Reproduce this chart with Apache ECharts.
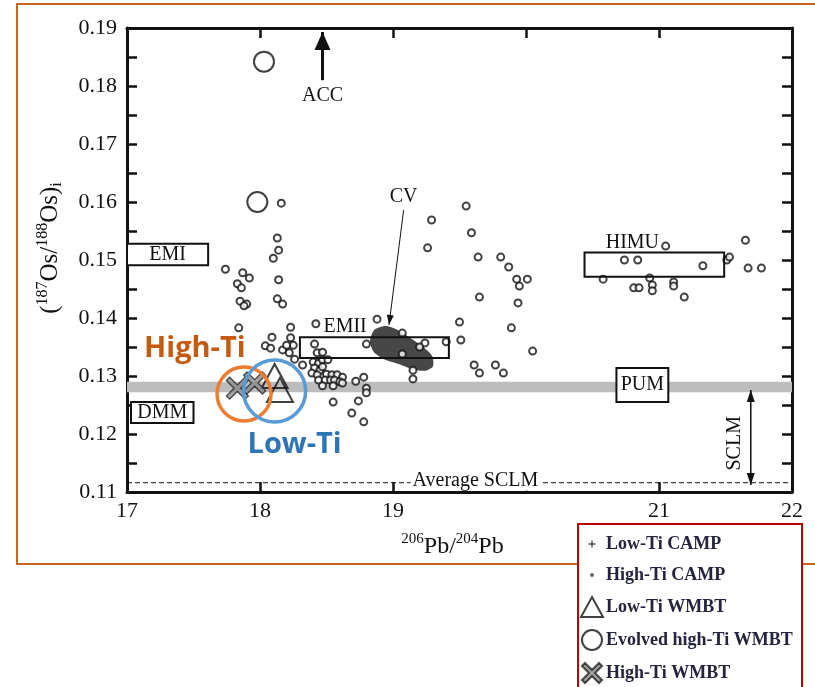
<!DOCTYPE html>
<html>
<head>
<meta charset="utf-8">
<script src="https://cdn.jsdelivr.net/npm/echarts@6/dist/echarts.min.js"></script>
<style>
  html, body { margin: 0; padding: 0; background: #fff; }
  #chart { width: 815px; height: 687px; }
</style>
</head>
<body>
<div id="chart"></div>
<script>
const SERIF = '"Liberation Serif", "DejaVu Serif", serif';
const SANS = '"Open Sans", "Noto Sans", sans-serif';

// Axes
const xTickLabels = ['17', '18', '19', '', '21', '22'];   // 20 is unlabelled in the original
const yTickLabels = ['0.11', '0.12', '0.13', '0.14', '0.15', '0.16', '0.17', '0.18', '0.19'];

// Samples: [206Pb/204Pb, 187Os/188Os(i)]
const lowTiCamp = [];
const highTiCamp = [
  [18.16, 0.1598], [18.13, 0.1538], [18.14, 0.1517], [18.10, 0.1503], [17.74, 0.1484], [17.87, 0.1478],
  [17.92, 0.1469], [17.83, 0.1459], [17.86, 0.1452], [18.14, 0.1466], [17.85, 0.1429], [17.90, 0.1424],
  [17.88, 0.1421], [18.13, 0.1433], [18.17, 0.1424], [17.84, 0.1383], [18.23, 0.1384], [18.42, 0.1390],
  [18.09, 0.1367], [18.04, 0.1352], [18.08, 0.1348], [18.23, 0.1366], [18.17, 0.1345], [18.22, 0.1340],
  [18.25, 0.1353], [18.26, 0.1329], [18.32, 0.1319], [18.20, 0.1353], [18.41, 0.1355], [18.80, 0.1355],
  [18.43, 0.1340], [18.47, 0.1341], [18.40, 0.1324], [18.44, 0.1322], [18.47, 0.1328], [18.51, 0.1328],
  [18.41, 0.1314], [18.45, 0.1310], [18.39, 0.1305], [18.43, 0.1302], [18.47, 0.1316], [18.50, 0.1303],
  [18.54, 0.1302], [18.58, 0.1302], [18.62, 0.1298], [18.44, 0.1293], [18.49, 0.1293], [18.53, 0.1293],
  [18.56, 0.1293], [18.60, 0.1290], [18.47, 0.1283], [18.55, 0.1283], [18.62, 0.1288], [18.72, 0.1291],
  [18.78, 0.1298], [18.80, 0.1279], [18.80, 0.1271], [18.74, 0.1257], [18.55, 0.1255], [18.69, 0.1236],
  [18.78, 0.1221], [18.88, 0.1398], [19.07, 0.1374], [19.24, 0.1357], [19.20, 0.1350], [19.07, 0.1338],
  [19.40, 0.1359], [19.15, 0.1310], [19.15, 0.1295], [19.55, 0.1593], [19.29, 0.1569], [19.59, 0.1547],
  [19.26, 0.1521], [19.64, 0.1505], [19.81, 0.1505], [19.87, 0.1488], [19.93, 0.1467], [20.01, 0.1467],
  [19.95, 0.1455], [19.65, 0.1436], [19.94, 0.1426], [19.50, 0.1393], [19.89, 0.1383], [19.51, 0.1362],
  [20.05, 0.1343], [19.61, 0.1319], [19.77, 0.1319], [19.65, 0.1305], [19.83, 0.1305], [21.05, 0.1524],
  [21.65, 0.1534], [20.74, 0.1500], [20.84, 0.1500], [21.33, 0.1490], [21.51, 0.1500], [21.53, 0.1505],
  [21.67, 0.1486], [21.77, 0.1486], [20.58, 0.1467], [20.93, 0.1469], [20.81, 0.1452], [20.85, 0.1452],
  [20.95, 0.1457], [20.95, 0.1447], [21.11, 0.1462], [21.11, 0.1455], [21.19, 0.1436]
];
const lowTiWmbt = [[18.11, 0.1300], [18.15, 0.1276]];
const evolvedHighTiWmbt = [[18.03, 0.1842], [17.98, 0.1600]];
const highTiWmbt = [[17.83, 0.1279], [17.96, 0.1288]];

// Mantle reservoirs: [x0, y0, x1, y1]
const reservoirNames = ['EMI', 'DMM', 'EMII', 'HIMU', 'PUM'];
const reservoirBoxes = [
  [17.00, 0.1491, 17.61, 0.1528],
  [17.03, 0.1219, 17.50, 0.1255],
  [18.30, 0.1331, 19.42, 0.1367],
  [20.44, 0.1471, 21.49, 0.1513],
  [20.68, 0.1255, 21.07, 0.1314]
];
const reservoirLabelX = [null, null, 18.64, 20.80, null];   // null = centred in box

const pumBand = [[17, 0.1272, 22, 0.1290]];
const avgSclm = [[17, 0.1116, 22]];
const avgSclmLabelX = 19.62;

// CV field outline
const cvField = [
  [18.857, 0.1379], [18.947, 0.1386], [19.038, 0.1379], [19.128, 0.1366], [19.226, 0.1350],
  [19.293, 0.1335], [19.301, 0.1317], [19.241, 0.1309], [19.143, 0.1312], [19.038, 0.1321],
  [18.932, 0.1329], [18.857, 0.1341], [18.827, 0.1359]
];

// Arrows: [fromX, fromY, toX, toY]
const arrowNames = ['ACC', 'CV', 'SCLM'];
const arrows = [
  [18.47, 0.1810, 18.47, 0.1893],
  [19.08, 0.1586, 18.97, 0.1388],
  [21.69, 0.1276, 21.69, 0.1112]
];
const arrowLabels = [[18.47, 0.1783], [19.08, 0.1609], [21.57, 0.1184]];

// Hand-drawn callouts
const calloutNames = ['High-Ti', 'Low-Ti'];
const calloutRings = [[17.88, 0.1269], [18.11, 0.1274]];
const calloutText = [[17.51, 0.1347], [18.26, 0.1181]];

const arrowStyle = [
  { width: 3, head: 18, half: 8, both: false },
  { width: 1, head: 10, half: 3.5, both: false },
  { width: 1.5, head: 12, half: 4, both: true }
];
const calloutStyle = [
  { ring: '#ed7d31', text: '#c55a11', r: 27 },
  { ring: '#5b9bd5', text: '#2e75b6', r: 31 }
];

const xPath = 'path://M3,0L10,7L17,0L20,3L13,10L20,17L17,20L10,13L3,20L0,17L7,10L0,3Z';
const plusIcon = 'path://M0,0M22,20M10.3,6.5h1.4v2.8h2.8v1.4h-2.8v2.8h-1.4v-2.8h-2.8v-1.4h2.8z';
const dotIcon = 'path://M0,0M22,20M9,10a2,2 0 1,0 4,0a2,2 0 1,0 -4,0z';

function rectFrom(api, b) {
  const a = api.coord([b[0], b[3]]);
  const c = api.coord([b[2], b[1]]);
  return { x: a[0], y: a[1], width: c[0] - a[0], height: c[1] - a[1] };
}

function arrowHead(tip, from, len, half) {
  const dx = tip[0] - from[0], dy = tip[1] - from[1];
  const d = Math.hypot(dx, dy) || 1;
  const ux = dx / d, uy = dy / d;
  const bx = tip[0] - ux * len, by = tip[1] - uy * len;
  return [tip, [bx - uy * half, by + ux * half], [bx + uy * half, by - ux * half]];
}

const chart = echarts.init(document.getElementById('chart'));

const axisLine = { show: true, onZero: false, lineStyle: { color: '#111', width: 3 } };
const tick = { show: true, inside: true, length: 10, lineStyle: { color: '#111', width: 2.5 } };
const minor = { show: true, splitNumber: 2, length: 10, lineStyle: { color: '#111', width: 2.5 } };

chart.setOption({
  backgroundColor: '#fff',
  animation: false,
  graphic: [
    { type: 'rect', z: 0, silent: true, shape: { x: 17, y: 4, width: 820, height: 560 },
      style: { fill: 'none', stroke: '#c8641e', lineWidth: 2 } },
    { type: 'rect', z: 50, silent: true, shape: { x: 578, y: 524, width: 224, height: 180 },
      style: { fill: '#fff', stroke: '#c00000', lineWidth: 2 } }
  ],
  grid: { left: 127, right: 23, top: 28, bottom: 195 },
  legend: {
    z: 60,
    orient: 'vertical',
    left: 580,
    top: 534,
    height: 200,
    padding: 0,
    itemWidth: 22,
    itemHeight: 20,
    itemGap: 11,
    selectedMode: false,
    textStyle: { fontFamily: SERIF, fontSize: 18, fontWeight: 'bold', color: '#24243c', padding: [0, 0, 0, -2] },
    data: [
      { name: 'Low-Ti CAMP', icon: plusIcon, itemStyle: { color: '#222', borderWidth: 0 } },
      { name: 'High-Ti CAMP', icon: dotIcon, itemStyle: { color: '#444', borderWidth: 0 } },
      { name: 'Low-Ti WMBT', icon: 'triangle' },
      { name: 'Evolved high-Ti WMBT', icon: 'circle' },
      { name: 'High-Ti WMBT', icon: xPath }
    ]
  },
  xAxis: [
    {
      type: 'value', position: 'bottom', min: 17, max: 22, interval: 1,
      axisLine, axisTick: tick, splitLine: { show: false },
      axisLabel: { fontFamily: SERIF, fontSize: 22, color: '#111', margin: 8,
        formatter: v => xTickLabels[Math.round(v - 17)] || '' },
      name: '{sup|206}{b|Pb/}{sup|204}{b|Pb}',
      nameLocation: 'middle', nameGap: 40,
      nameTextStyle: { fontFamily: SERIF, color: '#111', padding: [0, 14, 0, 0],
        rich: { b: { fontFamily: SERIF, fontSize: 24, lineHeight: 30, color: '#111' },
                sup: { fontFamily: SERIF, fontSize: 15, lineHeight: 15, verticalAlign: 'top', color: '#111' } } }
    },
    {
      type: 'value', position: 'top', min: 17, max: 22, interval: 1,
      axisLine, axisTick: tick, axisLabel: { show: false }, splitLine: { show: false }
    }
  ],
  yAxis: [
    {
      type: 'value', position: 'left', min: 0.11, max: 0.19, interval: 0.01,
      axisLine, axisTick: tick, minorTick: minor, splitLine: { show: false }, minorSplitLine: { show: false },
      axisLabel: { fontFamily: SERIF, fontSize: 22, color: '#111', margin: 10,
        formatter: v => yTickLabels[Math.round((v - 0.11) / 0.01)] || '' },
      name: '{b|(}{sup|187}{b|Os/}{sup|188}{b|Os)}{sub|i}',
      nameLocation: 'middle', nameGap: 62, nameRotate: 90,
      nameTextStyle: { fontFamily: SERIF, color: '#111', padding: [0, 0, 0, 24],
        rich: { b: { fontFamily: SERIF, fontSize: 25, lineHeight: 30, color: '#111' },
                sup: { fontFamily: SERIF, fontSize: 16, lineHeight: 16, verticalAlign: 'top', color: '#111' },
                sub: { fontFamily: SERIF, fontSize: 16, lineHeight: 16, verticalAlign: 'bottom', color: '#111' } } }
    },
    {
      type: 'value', position: 'right', min: 0.11, max: 0.19, interval: 0.01,
      axisLine, axisTick: tick, minorTick: minor, splitLine: { show: false }, minorSplitLine: { show: false },
      axisLabel: { show: false }
    }
  ],
  series: [
    {
      name: 'PUM band', type: 'custom', z: 1, silent: true, data: pumBand,
      renderItem: (params, api) => ({
        type: 'rect', shape: rectFrom(api, pumBand[params.dataIndex]), style: { fill: '#bdbdbd' }
      })
    },
    {
      name: 'Average SCLM', type: 'custom', z: 1, silent: true, data: avgSclm,
      renderItem: (params, api) => {
        const r = avgSclm[params.dataIndex];
        const a = api.coord([r[0], r[1]]), b = api.coord([r[2], r[1]]);
        const t = api.coord([avgSclmLabelX, r[1]]);
        return { type: 'group', children: [
          { type: 'line', shape: { x1: a[0], y1: a[1], x2: b[0], y2: b[1] },
            style: { stroke: '#111', lineWidth: 1, lineDash: [5, 3] } },
          { type: 'text', x: t[0], y: t[1] - 2, style: { text: 'Average SCLM', font: '20px ' + SERIF, fill: '#111',
            align: 'center', verticalAlign: 'middle', backgroundColor: '#fff', padding: [0, 2] } }
        ] };
      }
    },
    {
      name: 'Reservoir fill', type: 'custom', z: 1.5, silent: true, data: reservoirBoxes,
      renderItem: (params, api) => {
        const i = params.dataIndex;
        return { type: 'rect', shape: rectFrom(api, reservoirBoxes[i]),
          style: { fill: (i === 2 || i === 3) ? 'none' : '#fff' } };
      }
    },
    {
      name: 'CV field', type: 'custom', z: 2, silent: true, data: [cvField[0]],
      renderItem: (params, api) => ({
        type: 'polygon', shape: { points: cvField.map(p => api.coord(p)), smooth: 0.25 },
        style: { fill: '#474747' }
      })
    },
    {
      name: 'Low-Ti CAMP', type: 'scatter', z: 3, data: lowTiCamp, symbol: plusIcon, symbolSize: 10,
      itemStyle: { color: '#222' }
    },
    {
      name: 'High-Ti CAMP', type: 'scatter', z: 3, data: highTiCamp, symbol: 'circle', symbolSize: 7,
      itemStyle: { color: '#fff', borderColor: '#111', borderWidth: 2 }
    },
    {
      name: 'Reservoir outline', type: 'custom', z: 4, silent: true, data: reservoirBoxes,
      renderItem: (params, api) => {
        const i = params.dataIndex;
        const b = reservoirBoxes[i];
        const r = rectFrom(api, b);
        let tx = r.x + r.width / 2, ty = r.y + r.height / 2;
        if (reservoirLabelX[i] !== null) {
          tx = api.coord([reservoirLabelX[i], b[3]])[0];
          ty = r.y - 10;
        }
        return { type: 'group', children: [
          { type: 'rect', shape: r, style: { fill: 'none', stroke: '#111', lineWidth: 2 } },
          { type: 'text', x: tx, y: ty, style: { text: reservoirNames[i], font: '20px ' + SERIF, fill: '#111',
            align: 'center', verticalAlign: 'middle' } }
        ] };
      }
    },
    {
      name: 'Arrows', type: 'custom', z: 5, silent: true, data: arrows,
      renderItem: (params, api) => {
        const i = params.dataIndex;
        const a = arrows[i], s = arrowStyle[i];
        const p0 = api.coord([a[0], a[1]]), p1 = api.coord([a[2], a[3]]);
        const lab = api.coord(arrowLabels[i]);
        const kids = [
          { type: 'line', shape: { x1: p0[0], y1: p0[1], x2: p1[0], y2: p1[1] },
            style: { stroke: '#111', lineWidth: s.width } },
          { type: 'polygon', shape: { points: arrowHead(p1, p0, s.head, s.half) }, style: { fill: '#111' } }
        ];
        if (s.both) {
          kids.push({ type: 'polygon', shape: { points: arrowHead(p0, p1, s.head, s.half) }, style: { fill: '#111' } });
        }
        kids.push({ type: 'text', x: lab[0], y: lab[1], rotation: i === 2 ? Math.PI / 2 : 0,
          style: { text: arrowNames[i], font: '20px ' + SERIF, fill: '#111', align: 'center', verticalAlign: 'middle' } });
        return { type: 'group', children: kids };
      }
    },
    {
      name: 'Low-Ti WMBT', type: 'scatter', z: 6, data: lowTiWmbt, symbol: 'triangle', symbolSize: [26, 24],
      itemStyle: { color: 'rgba(0,0,0,0)', borderColor: '#111', borderWidth: 2 }
    },
    {
      name: 'Evolved high-Ti WMBT', type: 'scatter', z: 6, data: evolvedHighTiWmbt, symbol: 'circle', symbolSize: 20,
      itemStyle: { color: 'rgba(0,0,0,0)', borderColor: '#111', borderWidth: 2 }
    },
    {
      name: 'High-Ti WMBT', type: 'scatter', z: 6, data: highTiWmbt, symbol: xPath, symbolSize: 22,
      itemStyle: { color: '#8a8a8a', borderColor: '#222', borderWidth: 1.3 }
    },
    {
      name: 'Callouts', type: 'custom', z: 8, silent: true, data: calloutRings,
      renderItem: (params, api) => {
        const i = params.dataIndex, s = calloutStyle[i];
        const c = api.coord(calloutRings[i]), t = api.coord(calloutText[i]);
        return { type: 'group', children: [
          { type: 'circle', shape: { cx: c[0], cy: c[1], r: s.r }, style: { fill: 'none', stroke: s.ring, lineWidth: 3.5 } },
          { type: 'text', x: t[0], y: t[1], style: { text: calloutNames[i], font: 'bold 29px ' + SANS, fill: s.text,
            align: 'center', verticalAlign: 'middle' } }
        ] };
      }
    }
  ]
});
</script>
</body>
</html>
